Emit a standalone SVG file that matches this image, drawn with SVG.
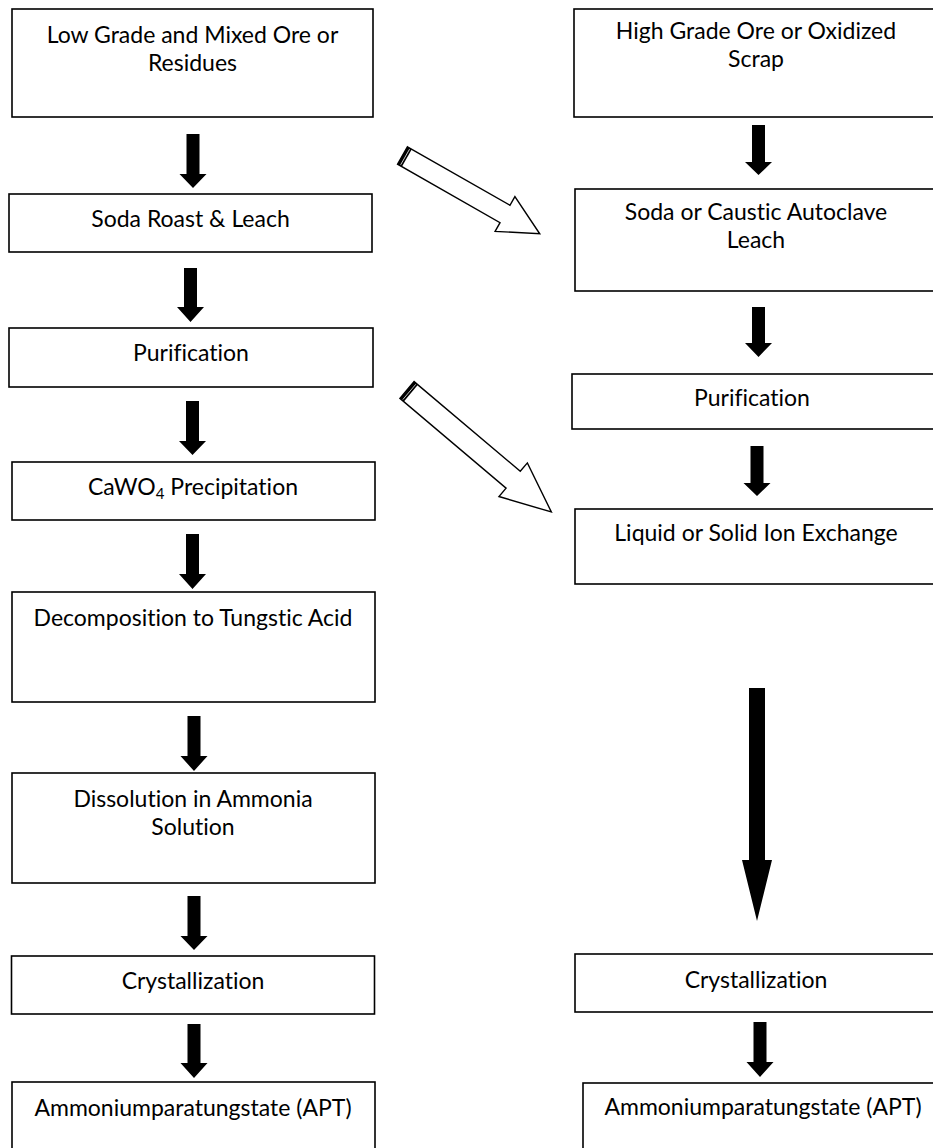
<svg xmlns="http://www.w3.org/2000/svg" width="933" height="1148" viewBox="0 0 933 1148">
<style>
.box{fill:#fff;stroke:#000;stroke-width:1.6}
.t{font-family:Lato,"Open Sans","Liberation Sans",sans-serif;font-size:23px;fill:#000;text-anchor:middle;font-variant-ligatures:none;font-feature-settings:"liga" 0,"dlig" 0}
.arr{fill:#000;stroke:none}
.hol{fill:#fff;stroke:#000;stroke-width:1.4;stroke-linejoin:miter}
</style>
<rect width="933" height="1148" fill="#fff"/>
<g id="connectors">
<path class="arr" d="M186.5,134 H199.5 V174 H206.5 L193,188 L179.5,174 H186.5 Z"/>
<path class="arr" d="M184,268 H197 V307 H204 L190.5,322 L177,307 H184 Z"/>
<path class="arr" d="M186,401 H199 V441 H206 L192.5,455 L179,441 H186 Z"/>
<path class="arr" d="M186,534 H199 V574 H206 L192.5,589 L179,574 H186 Z"/>
<path class="arr" d="M187.5,716 H200.5 V756 H207.5 L194,771 L180.5,756 H187.5 Z"/>
<path class="arr" d="M187.5,896 H200.5 V936 H207.5 L194,950 L180.5,936 H187.5 Z"/>
<path class="arr" d="M187.5,1024 H200.5 V1063 H207.5 L194,1078 L180.5,1063 H187.5 Z"/>
<path class="arr" d="M752,125 H765 V162 H772 L758.5,175 L745,162 H752 Z"/>
<path class="arr" d="M752,307 H765 V343 H772 L758.5,357 L745,343 H752 Z"/>
<path class="arr" d="M750.5,446 H763.5 V483 H770.5 L757,496 L743.5,483 H750.5 Z"/>
<path class="arr" d="M749,688 H765 V860 H772 L757,921 L742,860 H749 Z"/>
<path class="arr" d="M753.5,1022 H766.5 V1062 H773.5 L760,1077 L746.5,1062 H753.5 Z"/>
<g transform="translate(402.5,155.5) rotate(29.7)">
<polygon class="hol" points="0,-10 118,-10 118,-20 158,0 118,20 118,10 0,10"/>
<rect x="0" y="-10" width="5" height="20" fill="#000"/>
<line x1="3" y1="-9" x2="3" y2="9" stroke="#fff" stroke-width="0.7"/>
</g>
<g transform="translate(407,390) rotate(40.2)">
<polygon class="hol" points="0,-11 139,-11 139,-22 189,0 139,22 139,11 0,11"/>
<rect x="0" y="-11" width="5" height="22" fill="#000"/>
<line x1="3" y1="-10" x2="3" y2="10" stroke="#fff" stroke-width="0.7"/>
</g>
</g>
<g id="n1"><rect class="box" x="12" y="9" width="361" height="108"/><text class="t" x="192.5" y="43">Low Grade and Mixed Ore or</text><text class="t" x="192.5" y="71">Residues</text></g>
<g id="n2"><rect class="box" x="9" y="194" width="363" height="58"/><text class="t" x="190.5" y="226.5">Soda Roast &amp; Leach</text></g>
<g id="n3"><rect class="box" x="9" y="328" width="364" height="59"/><text class="t" x="191" y="360.5">Purification</text></g>
<g id="n4"><rect class="box" x="12" y="462" width="363" height="58"/><text class="t" x="193" y="495">CaWO<tspan font-size="15" dy="4">4</tspan><tspan dy="-4"> Precipitation</tspan></text></g>
<g id="n5"><rect class="box" x="12" y="592" width="363" height="110"/><text class="t" x="193" y="625.5">Decomposition to Tungstic Acid</text></g>
<g id="n6"><rect class="box" x="12" y="773" width="363" height="110"/><text class="t" x="193" y="806.5">Dissolution in Ammonia</text><text class="t" x="193" y="835">Solution</text></g>
<g id="n7"><rect class="box" x="11.5" y="956" width="363" height="58"/><text class="t" x="193" y="988.5">Crystallization</text></g>
<g id="n8"><rect class="box" x="12" y="1082" width="363" height="80"/><text class="t" x="193" y="1116">Ammoniumparatungstate (APT)</text></g>
<g id="n9"><rect class="box" x="574" y="9" width="366" height="108"/><text class="t" x="756" y="38.5">High Grade Ore or Oxidized</text><text class="t" x="756" y="66.5">Scrap</text></g>
<g id="n10"><rect class="box" x="575" y="189" width="366" height="102"/><text class="t" x="756" y="220">Soda or Caustic Autoclave</text><text class="t" x="756" y="248">Leach</text></g>
<g id="n11"><rect class="box" x="572" y="374" width="368" height="55"/><text class="t" x="752" y="406">Purification</text></g>
<g id="n12"><rect class="box" x="575" y="509" width="366" height="75"/><text class="t" x="756" y="540.5">Liquid or Solid Ion Exchange</text></g>
<g id="n13"><rect class="box" x="575" y="954" width="366" height="58"/><text class="t" x="756" y="987.5">Crystallization</text></g>
<g id="n14"><rect class="box" x="583" y="1083" width="360" height="80"/><text class="t" x="763" y="1115">Ammoniumparatungstate (APT)</text></g>
</svg>
